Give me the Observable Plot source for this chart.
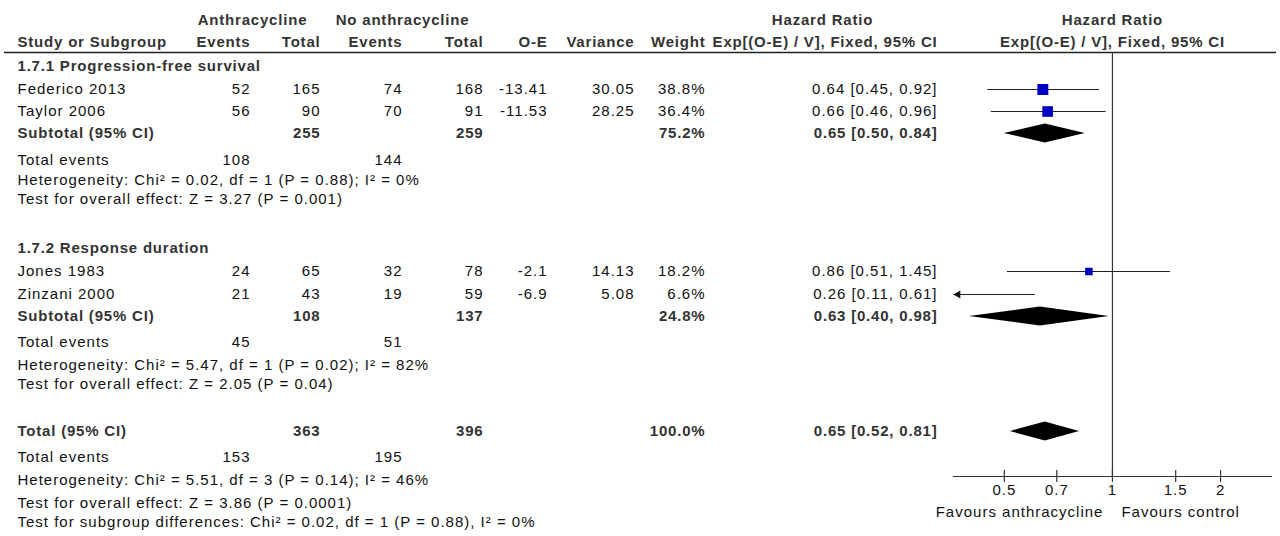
<!DOCTYPE html>
<html>
<head>
<meta charset="utf-8">
<script src="https://cdn.jsdelivr.net/npm/d3@7"></script>
<script src="https://cdn.jsdelivr.net/npm/@observablehq/plot@0.6"></script>
<style>
  html, body { margin: 0; padding: 0; background: #fff; }
  #chart { position: relative; width: 1280px; height: 536px; overflow: hidden; background: #fff; }
  #chart svg { position: absolute; left: 0; top: 0; background: transparent; }
  #chart svg text { letter-spacing: 1px; }
  #chart svg g[font-weight="bold"] text { letter-spacing: 0.8px; }
</style>
</head>
<body>
<div id="chart"></div>
<script>
// ---- Study-level data ----
const studies = ["Federico 2013", "Taylor 2006", "Jones 1983", "Zinzani 2000"];
const studyGroup = [0, 0, 1, 1];
const eventsAnthra = [52, 56, 24, 21];
const totalAnthra = [165, 90, 65, 43];
const eventsControl = [74, 70, 32, 19];
const totalControl = [168, 91, 78, 59];
const observedMinusExpected = [-13.41, -11.53, -2.1, -6.9];
const variance = [30.05, 28.25, 14.13, 5.08];
const weight = [38.8, 36.4, 18.2, 6.6];
const hazardRatio = [0.64, 0.66, 0.86, 0.26];
const ciLower = [0.45, 0.46, 0.51, 0.11];
const ciUpper = [0.92, 0.96, 1.45, 0.61];

// ---- Subgroup summaries ----
const subgroups = ["1.7.1 Progression-free survival", "1.7.2 Response duration"];
const subTotalAnthra = [255, 108];
const subTotalControl = [259, 137];
const subEventsAnthra = [108, 45];
const subEventsControl = [144, 51];
const subWeight = [75.2, 24.8];
const subHR = [0.65, 0.63];
const subLower = [0.50, 0.40];
const subUpper = [0.84, 0.98];
const subHeterogeneity = ["Chi² = 0.02, df = 1 (P = 0.88); I² = 0%", "Chi² = 5.47, df = 1 (P = 0.02); I² = 82%"];
const subOverallEffect = ["Z = 3.27 (P = 0.001)", "Z = 2.05 (P = 0.04)"];

// ---- Pooled result ----
const pooledTotals = [363, 396];
const pooledEvents = [153, 195];
const pooledWeight = 100.0;
const pooledHR = 0.65;
const pooledLower = 0.52;
const pooledUpper = 0.81;
const pooledHeterogeneity = "Chi² = 5.51, df = 3 (P = 0.14); I² = 46%";
const pooledOverallEffect = "Z = 3.86 (P = 0.0001)";
const subgroupDifferences = "Chi² = 0.02, df = 1 (P = 0.88), I² = 0%";

// ---- Axis ----
const axisTicks = [0.5, 0.7, 1, 1.5, 2];
const axisDomain = [0.361, 2.79];
const favourLabels = ["Favours anthracycline", "Favours control"];

// ---- Layout ----
const W = 1280, H = 536;
const FONT = "Liberation Sans, Arial, Helvetica, sans-serif";
const col = {study: 17, eA: 250, tA: 320, eC: 402, tC: 483, oe: 547, v: 634, w: 705, hr: 937};
const rows = {
  head1: 20, head2: 42, rule: 52,
  groups: [
    {title: 66, studies: [89, 111], subtotal: 133, events: 160, het: 180, effect: 199},
    {title: 248, studies: [271, 294], subtotal: 316, events: 342, het: 365, effect: 384}
  ],
  total: 431, totalEvents: 457, totalHet: 480, totalEffect: 503, diff: 522,
  axis: 476, tickLabel: 490, favours: 512
};
const diamondHalf = 9.5;

const fmtCI = (e, l, u) => `${e.toFixed(2)} [${l.toFixed(2)}, ${u.toFixed(2)}]`;

// ---- Table cells ----
const cells = [];
const cell = (x, y, text, anchor = "end", bold = false) => cells.push({x, y, text: String(text), anchor, bold});

// headers
cell(252, rows.head1, "Anthracycline", "middle", true);
cell(402, rows.head1, "No anthracycline", "middle", true);
cell(822, rows.head1, "Hazard Ratio", "middle", true);
cell(col.study, rows.head2, "Study or Subgroup", "start", true);
cell(col.eA, rows.head2, "Events", "end", true);
cell(col.tA, rows.head2, "Total", "end", true);
cell(col.eC, rows.head2, "Events", "end", true);
cell(col.tC, rows.head2, "Total", "end", true);
cell(col.oe, rows.head2, "O-E", "end", true);
cell(col.v, rows.head2, "Variance", "end", true);
cell(col.w, rows.head2, "Weight", "end", true);
cell(col.hr, rows.head2, "Exp[(O-E) / V], Fixed, 95% CI", "end", true);

// study rows and subgroup blocks
const studyRows = [];
subgroups.forEach((name, g) => {
  const R = rows.groups[g];
  cell(col.study, R.title, name, "start", true);
  let k = 0;
  studies.forEach((s, i) => {
    if (studyGroup[i] !== g) return;
    const y = R.studies[k++];
    cell(col.study, y, s, "start");
    cell(col.eA, y, eventsAnthra[i]);
    cell(col.tA, y, totalAnthra[i]);
    cell(col.eC, y, eventsControl[i]);
    cell(col.tC, y, totalControl[i]);
    cell(col.oe, y, observedMinusExpected[i]);
    cell(col.v, y, variance[i].toFixed(2));
    cell(col.w, y, weight[i].toFixed(1) + "%");
    cell(col.hr, y, fmtCI(hazardRatio[i], ciLower[i], ciUpper[i]));
    studyRows.push({y, hr: hazardRatio[i], lo: ciLower[i], hi: ciUpper[i], weight: weight[i]});
  });
  cell(col.study, R.subtotal, "Subtotal (95% CI)", "start", true);
  cell(col.tA, R.subtotal, subTotalAnthra[g], "end", true);
  cell(col.tC, R.subtotal, subTotalControl[g], "end", true);
  cell(col.w, R.subtotal, subWeight[g].toFixed(1) + "%", "end", true);
  cell(col.hr, R.subtotal, fmtCI(subHR[g], subLower[g], subUpper[g]), "end", true);
  cell(col.study, R.events, "Total events", "start");
  cell(col.eA, R.events, subEventsAnthra[g]);
  cell(col.eC, R.events, subEventsControl[g]);
  cell(col.study, R.het, "Heterogeneity: " + subHeterogeneity[g], "start");
  cell(col.study, R.effect, "Test for overall effect: " + subOverallEffect[g], "start");
});

// pooled block
cell(col.study, rows.total, "Total (95% CI)", "start", true);
cell(col.tA, rows.total, pooledTotals[0], "end", true);
cell(col.tC, rows.total, pooledTotals[1], "end", true);
cell(col.w, rows.total, pooledWeight.toFixed(1) + "%", "end", true);
cell(col.hr, rows.total, fmtCI(pooledHR, pooledLower, pooledUpper), "end", true);
cell(col.study, rows.totalEvents, "Total events", "start");
cell(col.eA, rows.totalEvents, pooledEvents[0]);
cell(col.eC, rows.totalEvents, pooledEvents[1]);
cell(col.study, rows.totalHet, "Heterogeneity: " + pooledHeterogeneity, "start");
cell(col.study, rows.totalEffect, "Test for overall effect: " + pooledOverallEffect, "start");
cell(col.study, rows.diff, "Test for subgroup differences: " + subgroupDifferences, "start");

// one text mark per anchor / weight combination
const textMarks = [];
for (const anchor of ["start", "middle", "end"]) {
  for (const bold of [false, true]) {
    const subset = cells.filter(c => c.anchor === anchor && c.bold === bold);
    if (!subset.length) continue;
    textMarks.push(Plot.text(subset, {
      x: "x", y: "y", text: "text", textAnchor: anchor,
      fontFamily: FONT, fontSize: 15, fontWeight: bold ? "bold" : "normal",
      fill: bold ? "#333" : "#111"
    }));
  }
}

const tablePlot = Plot.plot({
  width: W, height: H, margin: 0,
  x: {type: "identity", axis: null},
  y: {type: "identity", axis: null},
  style: {background: "transparent"},
  marks: [
    Plot.ruleY([rows.rule], {x1: 4, x2: 1276, stroke: "#222", strokeWidth: 1.6}),
    ...textMarks
  ]
});

// ---- Forest plot ----
const xMin = axisDomain[0];
const ciRows = studyRows.map(d => ({...d, lo: Math.max(d.lo, xMin), clipped: d.lo < xMin}));
const boxes = studyRows.filter(d => d.hr >= xMin);
const arrowHeads = ciRows.filter(d => d.clipped);

const diamonds = [
  ...subgroups.map((_, g) => ({key: "g" + g, y: rows.groups[g].subtotal, est: subHR[g], lo: subLower[g], hi: subUpper[g]})),
  {key: "total", y: rows.total, est: pooledHR, lo: pooledLower, hi: pooledUpper}
];
const diamondPts = diamonds.flatMap(d => [
  {key: d.key, x: d.lo, y1: d.y, y2: d.y},
  {key: d.key, x: d.est, y1: d.y - diamondHalf, y2: d.y + diamondHalf},
  {key: d.key, x: d.hi, y1: d.y, y2: d.y}
]);

const forestPlot = Plot.plot({
  width: W, height: H, margin: 0,
  x: {type: "log", domain: axisDomain, range: [953, 1272], axis: null},
  y: {type: "identity", axis: null},
  r: {type: "sqrt", domain: [0, 38.8], range: [0, 6.2]},
  style: {background: "transparent"},
  marks: [
    // column headers centred on the line of no effect
    Plot.text(["Hazard Ratio", "Exp[(O-E) / V], Fixed, 95% CI"], {
      x: 1, y: (d, i) => i === 0 ? rows.head1 : rows.head2, text: d => d,
      textAnchor: "middle", fontFamily: FONT, fontSize: 15, fontWeight: "bold", fill: "#333"
    }),
    // line of no effect and axis
    Plot.ruleX([1], {y1: rows.rule, y2: rows.axis, stroke: "#333", strokeWidth: 1.2}),
    Plot.ruleY([rows.axis], {x1: axisDomain[0], x2: axisDomain[1], stroke: "#333", strokeWidth: 1.2}),
    Plot.ruleX(axisTicks, {x: d => d, y1: rows.axis - 6, y2: rows.axis + 6, stroke: "#333", strokeWidth: 1.2}),
    Plot.text(axisTicks, {x: d => d, y: rows.tickLabel, text: d => String(d),
      fontFamily: FONT, fontSize: 15, fontWeight: "normal", fill: "#111"}),
    Plot.text([favourLabels[0]], {x: 1, y: rows.favours, text: d => d, textAnchor: "end", dx: -9,
      fontFamily: FONT, fontSize: 15, fontWeight: "normal", fill: "#111"}),
    Plot.text([favourLabels[1]], {x: 1, y: rows.favours, text: d => d, textAnchor: "start", dx: 9,
      fontFamily: FONT, fontSize: 15, fontWeight: "normal", fill: "#111"}),
    // confidence intervals
    Plot.ruleY(ciRows, {y: "y", x1: "lo", x2: "hi", stroke: "#222", strokeWidth: 1.2}),
    Plot.dot(arrowHeads, {x: xMin, y: "y", symbol: "triangle", rotate: -90, r: 3, dx: 4.5, fill: "#111", stroke: "none"}),
    // study estimates
    Plot.dot(boxes, {x: "hr", y: "y", r: "weight", symbol: "square", fill: "#0000c0", stroke: "none"}),
    // pooled estimates
    Plot.area(diamondPts, {x1: "x", y1: "y1", y2: "y2", z: "key", fill: "#000", curve: "linear"})
  ]
});

const chart = document.getElementById("chart");
chart.appendChild(tablePlot);
chart.appendChild(forestPlot);
</script>
</body>
</html>
